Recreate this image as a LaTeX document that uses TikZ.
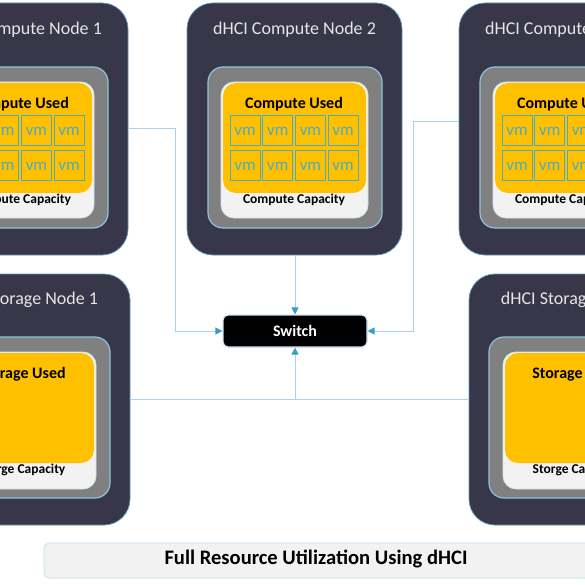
\documentclass[tikz,border=0pt]{standalone}
\usepackage{fontspec}
\setmainfont{Carlito}
\usetikzlibrary{arrows.meta}
\definecolor{outerfill}{HTML}{383649}
\definecolor{outerline}{HTML}{5B9BBD}
\definecolor{grayfill}{HTML}{808080}
\definecolor{grayline}{HTML}{8EC4DC}
\definecolor{capfill}{HTML}{F2F2F2}
\definecolor{capline}{HTML}{CFE6F2}
\definecolor{usedfill}{HTML}{FFC000}
\definecolor{vmcol}{HTML}{4BACC6}
\definecolor{titlecol}{HTML}{E6E6E6}
\definecolor{connline}{HTML}{A8D3E6}
\definecolor{tipcol}{HTML}{3A9CC8}
\tikzset{
  box/.style={anchor=north west, inner sep=0pt, outer sep=0pt},
  outerbox/.style={box, draw=outerline, line width=0.7pt, fill=outerfill, rounded corners=26pt, minimum width=215pt},
  graybox/.style={box, draw=grayline, line width=1.2pt, fill=grayfill, rounded corners=15pt},
  capbox/.style={box, draw=capline, line width=0.8pt, fill=capfill, rounded corners=13pt},
  usedbox/.style={box, fill=usedfill, rounded corners=13pt},
  titletext/.style={text=titlecol, font=\fontsize{18}{20}\selectfont, inner sep=0pt},
  usedtext/.style={text=black, font=\bfseries\fontsize{16}{18}\selectfont, inner sep=0pt},
  captext/.style={text=black, font=\bfseries\fontsize{13.5}{15}\selectfont, inner sep=0pt},
  vmbox/.style={box, draw=vmcol, line width=1pt, minimum width=30pt, minimum height=30pt, text=vmcol, font=\fontsize{17}{18}\selectfont},
  switchbox/.style={draw=capline, line width=1.2pt, fill=black, rounded corners=5pt, minimum width=144pt, minimum height=32pt, inner sep=0pt, text=white, font=\bfseries\fontsize{16}{18}\selectfont},
  banner/.style={box, draw=capline, line width=1pt, fill=capfill, rounded corners=5pt, minimum width=546pt, minimum height=35pt},
  bannertext/.style={text=black, font=\bfseries\fontsize{20.6}{22}\selectfont, inner sep=0pt},
  conn/.style={draw=connline, line width=1pt},
  arr/.style={conn, -{Triangle[length=7pt, width=7pt, color=tipcol]}},
}
\newcommand\computenodebox[4]{%
\begin{scope}[shift={(#2,#3)}]
\node[outerbox, minimum height=252pt] (#1) at (0,0) {};
\node[titletext] (#1t) at (107.5,27) {#4};
\node[graybox, minimum width=174pt, minimum height=161pt] (#1g) at (21,64) {};
\node[capbox, minimum width=147pt, minimum height=136pt] (#1c) at (34,79) {};
\node[usedbox, minimum width=143pt, minimum height=110pt] (#1u) at (36,80) {};
\node[usedtext] (#1ut) at (107,101) {Compute Used};
\foreach \i in {0,...,3}{\foreach \j in {0,1}{
  \node[vmbox] (#1v\i\j) at (43+\i*32.7,113+\j*35) {vm};}}
\node[captext] (#1ct) at (107,197) {Compute Capacity};
\end{scope}}
\newcommand\storagenodebox[4]{%
\begin{scope}[shift={(#2,#3)}]
\node[outerbox, minimum height=251pt] (#1) at (0,0) {};
\node[titletext] (#1t) at (107.5,26) {#4};
\node[graybox, minimum width=175pt, minimum height=161pt] (#1g) at (20,63) {};
\node[capbox, minimum width=147pt, minimum height=137pt] (#1c) at (34,78) {};
\node[usedbox, minimum width=143pt, minimum height=110pt] (#1u) at (36,79) {};
\node[usedtext] (#1ut) at (107,100) {Storage Used};
\node[captext] (#1ct) at (107,196) {Storge Capacity};
\end{scope}}
\begin{document}
\begin{tikzpicture}[x=1pt,y=-1pt]
\useasboundingbox (0,0) rectangle (585,585);
\clip (0,0) rectangle (585,585);
\fill[white] (0,0) rectangle (585,585);
\computenodebox{cn1}{-87}{3}{dHCI Compute Node 1}
\computenodebox{cn2}{187}{3}{dHCI Compute Node 2}
\computenodebox{cn3}{459}{3}{dHCI Compute Node 3}
\storagenodebox{sn1}{-85}{274}{dHCI Storage Node 1}
\storagenodebox{sn2}{469}{274}{dHCI Storage Node 2}
\node[switchbox] (sw) at (295,331) {Switch};
\coordinate (b1) at (175,129);
\coordinate (b3) at (413,122);
\draw[arr] (cn1.east |- b1) -- (b1) |- (sw.west);
\draw[arr] (cn3.west |- b3) -- (b3) |- (sw.east);
\draw[arr] (cn2.south -| sw.north) -- (sw.north);
\draw[conn] (sn1.east) -- (sn2.west);
\draw[arr] (sn1.east -| sw.south) -- (sw.south);
\node[banner] (bn) at (44,543) {};
\node[bannertext] (bnt) at (316,559) {Full Resource Utilization Using dHCI};
\end{tikzpicture}
\end{document}
